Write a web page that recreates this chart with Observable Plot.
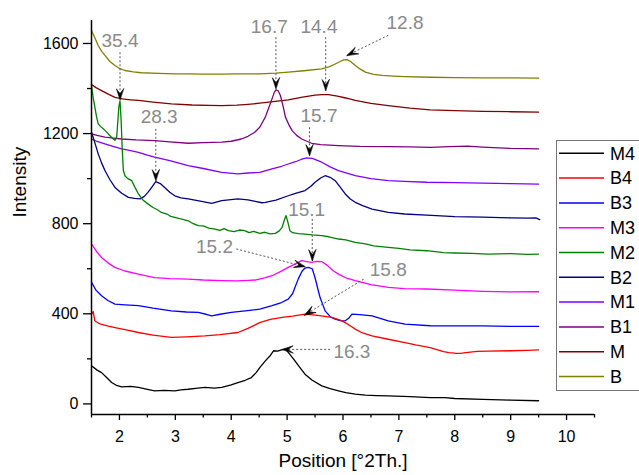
<!DOCTYPE html>
<html><head><meta charset="utf-8">
<script src="https://cdn.jsdelivr.net/npm/d3@7"></script>
<script src="https://cdn.jsdelivr.net/npm/@observablehq/plot@0.6"></script>
<style>
body{margin:0;background:#fff;font-family:"Liberation Sans",Arial,sans-serif;}
#wrap{position:relative;width:639px;height:475px;overflow:hidden;}
#legend{position:absolute;left:0;top:0;pointer-events:none;}
</style></head><body><div id="wrap"></div>
<script>
// ---------- data ----------
const names  = ["M4","B4","B3","M3","M2","B2","M1","B1","M","B"];
const colors = ["#000000","#ff0000","#0000ff","#ff00ff","#008000","#000080","#8000ff","#800080","#800000","#808000"];

const B = [[1.50,1658],[1.56,1625],[1.62,1591],[1.68,1566],[1.74,1547],[1.83,1520],[1.92,1502],[2.01,1488],[2.10,1480],[2.25,1474],[2.39,1470],[2.7,1467],[3.0,1465],[3.23,1465],[3.5,1464],[3.8,1464],[4.1,1465],[4.51,1465],[4.8,1468],[5.02,1473],[5.3,1479],[5.62,1487],[5.75,1496],[5.86,1509],[5.95,1520],[6.01,1527],[6.07,1528],[6.13,1521],[6.22,1502],[6.31,1486],[6.40,1473],[6.55,1463],[6.70,1458],[6.9,1455],[7.11,1453],[7.56,1450],[8.0,1448],[8.5,1447],[9.0,1447],[9.5,1446]];
const M = [[1.50,1418],[1.58,1404],[1.68,1391],[1.80,1375],[1.92,1361],[2.05,1354],[2.2,1350],[2.34,1347],[2.6,1340],[2.93,1332],[3.3,1327],[3.6,1325],[3.83,1324],[4.1,1326],[4.3,1330],[4.51,1335],[4.75,1342],[5.02,1350],[5.25,1361],[5.50,1371],[5.62,1373],[5.74,1373],[5.9,1366],[6.05,1358],[6.22,1347],[6.5,1334],[6.81,1324],[7.2,1313],[7.56,1305],[8.0,1302],[8.5,1299],[9.0,1297],[9.5,1295]];
const B1 = [[1.50,1199],[1.6,1192],[1.74,1184],[1.9,1180],[2.04,1176],[2.3,1172],[2.63,1169],[2.9,1163],[3.23,1157],[3.5,1160],[3.83,1162],[4.0,1166],[4.18,1176],[4.30,1188],[4.42,1206],[4.51,1228],[4.61,1273],[4.68,1320],[4.73,1354],[4.77,1383],[4.80,1394],[4.84,1390],[4.88,1369],[4.93,1320],[4.97,1273],[5.03,1240],[5.09,1213],[5.17,1192],[5.26,1176],[5.44,1157],[5.6,1151],[5.92,1147],[6.3,1143],[6.81,1142],[7.2,1141],[7.56,1139],[7.9,1142],[8.23,1144],[8.5,1140],[9.0,1134],[9.5,1132]];
const M1 = [[1.50,1176],[1.6,1165],[1.74,1154],[1.9,1142],[2.04,1132],[2.2,1124],[2.34,1117],[2.5,1104],[2.63,1095],[2.9,1080],[3.23,1058],[3.5,1045],[3.83,1028],[4.12,1021],[4.3,1025],[4.51,1028],[4.73,1043],[4.9,1055],[5.02,1065],[5.15,1075],[5.25,1085],[5.35,1092],[5.45,1090],[5.62,1073],[5.77,1052],[5.92,1036],[6.22,1013],[6.5,1000],[6.81,991],[7.1,988],[7.5,984],[8.0,982],[8.5,980],[9.0,978],[9.5,976]];
const B2 = [[1.50,1206],[1.56,1160],[1.62,1110],[1.68,1070],[1.74,1036],[1.83,995],[1.92,961],[2.04,935],[2.16,917],[2.27,912],[2.37,910],[2.44,920],[2.51,939],[2.58,962],[2.65,987],[2.73,978],[2.81,961],[2.9,940],[2.99,924],[3.1,915],[3.23,910],[3.47,899],[3.65,890],[3.83,902],[4.12,910],[4.3,906],[4.43,899],[4.55,893],[4.61,895],[4.8,905],[5.02,924],[5.15,935],[5.32,947],[5.42,965],[5.50,984],[5.60,1003],[5.68,1013],[5.77,1006],[5.86,991],[5.95,962],[6.04,932],[6.13,910],[6.22,895],[6.35,880],[6.52,865],[6.81,850],[7.1,843],[7.5,838],[8.0,831],[8.5,829],[9.0,826],[9.3,825],[9.45,826],[9.52,818]];
const M2 = [[1.50,1413],[1.53,1360],[1.56,1317],[1.59,1275],[1.62,1243],[1.66,1232],[1.71,1221],[1.75,1212],[1.80,1199],[1.84,1188],[1.89,1176],[1.92,1170],[1.95,1184],[1.97,1250],[1.99,1320],[2.01,1345],[2.03,1260],[2.05,1130],[2.07,1036],[2.1,1012],[2.15,1000],[2.22,991],[2.28,960],[2.34,932],[2.42,905],[2.51,888],[2.6,872],[2.68,862],[2.75,850],[2.85,843],[2.92,832],[2.99,828],[3.08,822],[3.15,818],[3.23,813],[3.32,800],[3.41,791],[3.5,790],[3.6,780],[3.71,776],[3.8,770],[3.87,778],[3.95,769],[4.05,765],[4.15,772],[4.24,769],[4.32,760],[4.4,766],[4.51,757],[4.6,762],[4.7,755],[4.79,757],[4.86,768],[4.91,784],[4.95,815],[4.98,836],[5.01,810],[5.05,769],[5.1,760],[5.2,756],[5.32,754],[5.45,750],[5.62,747],[5.75,742],[5.92,732],[6.05,728],[6.22,717],[6.4,710],[6.55,702],[6.81,695],[7.0,690],[7.2,684],[7.5,680],[7.8,672],[8.0,670],[8.3,668],[8.6,665],[9.0,667],[9.3,664],[9.5,665]];
const M3 = [[1.50,710],[1.58,680],[1.68,650],[1.8,625],[1.92,606],[2.1,590],[2.34,576],[2.63,561],[2.9,556],[3.23,554],[3.5,550],[3.83,547],[4.1,546],[4.3,548],[4.43,550],[4.6,560],[4.73,569],[4.88,587],[5.02,606],[5.15,622],[5.26,636],[5.35,632],[5.44,628],[5.53,633],[5.62,632],[5.72,615],[5.82,592],[5.92,576],[6.05,560],[6.22,547],[6.5,530],[6.81,517],[7.1,512],[7.5,510],[8.0,505],[8.5,500],[9.0,497],[9.5,498]];
const B3 = [[1.50,540],[1.58,505],[1.68,480],[1.8,458],[1.92,443],[2.1,440],[2.34,436],[2.6,425],[2.93,413],[3.2,408],[3.41,406],[3.55,398],[3.65,391],[3.8,398],[4.0,406],[4.25,413],[4.51,421],[4.73,436],[4.9,450],[5.02,465],[5.1,490],[5.14,517],[5.2,555],[5.27,590],[5.32,603],[5.38,606],[5.45,600],[5.50,560],[5.55,510],[5.59,472],[5.68,413],[5.78,385],[5.86,376],[5.95,370],[6.04,369],[6.1,380],[6.16,399],[6.3,396],[6.52,391],[6.81,369],[7.11,354],[7.56,347],[8.0,346],[8.5,346],[9.0,344],[9.5,344]];
const B4 = [[1.50,399],[1.53,410],[1.56,369],[1.65,355],[1.8,345],[1.92,339],[2.1,330],[2.34,317],[2.6,305],[2.93,295],[3.2,298],[3.53,302],[3.8,308],[4.12,317],[4.3,335],[4.51,361],[4.7,375],[4.91,384],[5.1,390],[5.32,399],[5.55,393],[5.80,384],[5.95,372],[6.04,361],[6.13,347],[6.22,332],[6.35,315],[6.52,302],[6.81,287],[7.11,272],[7.3,262],[7.56,250],[7.8,232],[7.9,228],[8.0,225],[8.1,224],[8.2,228],[8.4,233],[8.6,234],[9.0,236],[9.3,238],[9.5,240]];
const M4 = [[1.50,169],[1.6,150],[1.68,139],[1.78,115],[1.86,95],[1.95,82],[2.04,76],[2.2,78],[2.34,73],[2.5,65],[2.63,58],[2.8,60],[2.99,58],[3.1,62],[3.23,65],[3.4,70],[3.53,73],[3.7,70],[3.83,73],[4.0,85],[4.12,95],[4.25,105],[4.36,117],[4.45,140],[4.51,161],[4.61,191],[4.7,215],[4.76,236],[4.83,234],[4.9,240],[4.97,243],[5.05,220],[5.14,191],[5.23,161],[5.32,132],[5.45,105],[5.62,80],[5.77,68],[5.92,58],[6.05,50],[6.22,43],[6.4,39],[6.6,37],[6.81,36],[7.2,32],[7.56,28],[7.82,28],[8.0,24],[8.5,20],[9.0,17],[9.5,14]];

const xMajor = [2,3,4,5,6,7,8,9,10];
const xMinor = [1.5,2.5,3.5,4.5,5.5,6.5,7.5,8.5,9.5,10.5];
const yMajor = [0,400,800,1200,1600];
const yMinor = [200,600,1000,1400];
const xDomain = [1.5, 10.5];
const yDomain = [-47, 1702];

// peak annotations: label, text position, dashed line start, arrow tip (data units)
const annLabels = ["35.4","16.7","14.4","12.8","28.3","15.7","15.1","15.2","15.8","16.3"];
const annTextX  = [2.01, 4.68, 5.57, 7.11, 2.71, 5.57, 5.35, 3.70, 6.81, 6.16];
const annTextY  = [1613, 1673, 1673, 1690, 1272, 1280, 862, 695, 596, 231];
const annFromX  = [2.01, 4.80, 5.69, 6.81, 2.65, 5.40, 5.45, 4.09, 6.37, 5.77];
const annFromY  = [1561, 1628, 1628, 1636, 1221, 1228, 821, 688, 554, 242];
const annTipX   = [2.01, 4.80, 5.69, 6.07, 2.65, 5.40, 5.45, 5.32, 5.31, 4.91];
const annTipY   = [1350, 1399, 1391, 1547, 991, 1102, 636, 609, 394, 242];

// ---------- layout ----------
const W = 639, H = 475;
const mT = 20, mR = 45, mB = 61, mL = 91;
const kx = (W - mL - mR) / (xDomain[1] - xDomain[0]);
const ky = (H - mT - mB) / (yDomain[1] - yDomain[0]);

const seriesMap = {M4, B4, B3, M3, M2, B2, M1, B1, M, B};
const ann = annLabels.map((label, i) => {
  const sx = (annTipX[i] - annFromX[i]) * kx;
  const sy = -(annTipY[i] - annFromY[i]) * ky;
  return {label, tx: annTextX[i], ty: annTextY[i], x1: annFromX[i], y1: annFromY[i],
          x2: annTipX[i], y2: annTipY[i], rot: Math.atan2(sx, -sy) * 180 / Math.PI};
});

const arrowHead = {
  draw(context, l) {
    const w = 3.6;
    context.moveTo(0, 0);
    context.lineTo(w, l);
    context.lineTo(0, l * 0.55);
    context.lineTo(-w, l);
    context.closePath();
  }
};

const lineMarks = names.slice().reverse().map(n => {
  const c = colors[names.indexOf(n)];
  return Plot.line(seriesMap[n], {x: d => d[0], y: d => d[1], stroke: c, strokeWidth: 1.3});
});

const chart = Plot.plot({
  width: W, height: H,
  marginTop: mT, marginRight: mR, marginBottom: mB, marginLeft: mL,
  style: {fontFamily: '"Liberation Sans", Arial, sans-serif', background: "#fff", color: "#000"},
  x: {domain: xDomain, label: null},
  y: {domain: yDomain, label: null},
  marks: [
    ...lineMarks,
    Plot.link(ann, {x1: "x1", y1: "y1", x2: "x2", y2: "y2", stroke: "#555", strokeWidth: 1, strokeDasharray: "2,2"}),
    Plot.vector(ann, {x: "x2", y: "y2", rotate: "rot", length: 11, anchor: "start", shape: arrowHead, fill: "#000", stroke: "#000", strokeWidth: 0.6}),
    Plot.text(ann, {x: "tx", y: "ty", text: "label", fill: "#8a8a8a", fontSize: 19}),
    Plot.ruleX([xDomain[0]], {stroke: "#000", strokeWidth: 1.5}),
    Plot.ruleY([yDomain[0]], {stroke: "#000", strokeWidth: 1.5}),
    Plot.axisX({ticks: xMajor, tickSize: 6, tickPadding: 10, fontSize: 16, tickFormat: d => String(d), label: null, strokeWidth: 1.3}),
    Plot.axisX({ticks: xMinor, tickSize: 3.5, tickFormat: () => "", label: null, strokeWidth: 1.3}),
    Plot.axisY({ticks: yMajor, tickSize: 8, tickPadding: 5, fontSize: 16, tickFormat: d => String(d), label: null, strokeWidth: 1.3}),
    Plot.axisY({ticks: yMinor, tickSize: 4, tickFormat: () => "", label: null, strokeWidth: 1.3}),
    Plot.text(["Intensity"], {frameAnchor: "left", text: d => d, rotate: -90, dx: -72, fontSize: 19}),
    Plot.text(["Position [°2Th.]"], {frameAnchor: "bottom", text: d => d, dy: 52, fontSize: 19})
  ]
});

const wrap = document.getElementById("wrap");
wrap.appendChild(chart);

// legend inside the plot area (top-right), built from the series arrays
const leg = d3.create("svg").attr("id", "legend").attr("width", W).attr("height", H);
leg.append("rect").attr("x", 556.5).attr("y", 140.5).attr("width", 100).attr("height", 250)
  .attr("fill", "#fff").attr("stroke", "#777").attr("stroke-width", 1);
names.forEach((n, i) => {
  const yy = 153.3 + i * 24.8;
  leg.append("line").attr("x1", 559).attr("x2", 604).attr("y1", yy).attr("y2", yy)
    .attr("stroke", colors[i]).attr("stroke-width", 1.5);
  leg.append("text").attr("x", 610).attr("y", yy).attr("dy", "0.35em")
    .attr("font-size", 18).attr("font-family", '"Liberation Sans", Arial, sans-serif')
    .attr("fill", "#000").text(n);
});
wrap.appendChild(leg.node());
</script></body></html>
